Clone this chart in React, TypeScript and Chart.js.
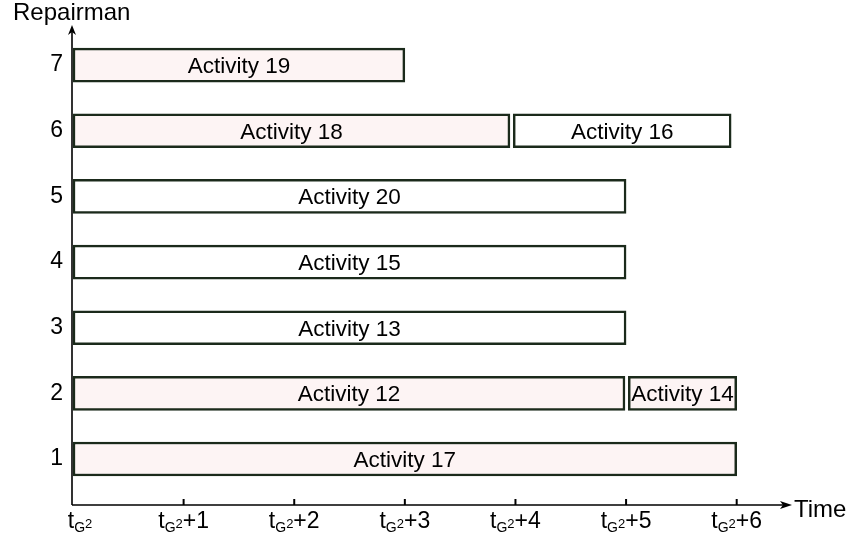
import React, { useEffect, useRef } from "react";
import { Chart, registerables } from "chart.js";

Chart.register(...registerables);

// ---- data ----
const rowLabels = [7, 6, 5, 4, 3, 2, 1];
const xTickSteps = [0, 1, 2, 3, 4, 5, 6];

const primaryRows = [7, 6, 5, 4, 3, 2, 1];
const primaryNames = ["Activity 19", "Activity 18", "Activity 20", "Activity 15", "Activity 13", "Activity 12", "Activity 17"];
const primaryStarts = [0, 0, 0, 0, 0, 0, 0];
const primaryEnds = [3, 3.95, 5, 5, 5, 4.99, 6];

const secondaryRows = [6, 2];
const secondaryNames = ["Activity 16", "Activity 14"];
const secondaryStarts = [3.98, 5.02];
const secondaryEnds = [5.95, 6.0];

// ---- styles ----
const PINK = "#fdf4f4";
const WHITE = "#ffffff";
const EDGE = "#1b2a1b";
const primaryFills = [PINK, PINK, WHITE, WHITE, WHITE, PINK, PINK];
const secondaryFills = [WHITE, PINK];
const FONT = "'Liberation Sans', Arial, sans-serif";

const overlay = {
  id: "overlay",
  afterDatasetsDraw(chart: any) {
    const ctx = chart.ctx as CanvasRenderingContext2D;
    const area = chart.chartArea;
    const xs = chart.scales.x;
    const ax = area.left - 1;
    const ay = area.bottom;
    ctx.save();
    // bar labels
    ctx.fillStyle = "#000";
    ctx.font = `22.5px ${FONT}`;
    ctx.textAlign = "center";
    ctx.textBaseline = "alphabetic";
    const names = [primaryNames, secondaryNames];
    chart.data.datasets.forEach((_: any, di: number) => {
      const meta = chart.getDatasetMeta(di);
      meta.data.forEach((bar: any, i: number) => {
        const p = bar.getProps(["x", "y", "base"], true);
        const cx = (p.x + p.base) / 2;
        ctx.fillText(names[di][i], cx, p.y + 8);
      });
    });

    // axes
    ctx.strokeStyle = "#000";
    ctx.fillStyle = "#000";
    ctx.lineWidth = 1.6;
    ctx.beginPath();
    ctx.moveTo(ax, ay);
    ctx.lineTo(ax, area.top + 6);
    ctx.moveTo(ax, ay);
    ctx.lineTo(area.right - 6, ay);
    ctx.stroke();
    // arrow heads
    ctx.beginPath();
    ctx.moveTo(ax, area.top);
    ctx.lineTo(ax - 4, area.top + 10);
    ctx.lineTo(ax, area.top + 7);
    ctx.lineTo(ax + 4, area.top + 10);
    ctx.closePath();
    ctx.fill();
    ctx.beginPath();
    ctx.moveTo(area.right, ay);
    ctx.lineTo(area.right - 12, ay - 4);
    ctx.lineTo(area.right - 9, ay);
    ctx.lineTo(area.right - 12, ay + 4);
    ctx.closePath();
    ctx.fill();

    // tick marks and labels
    xTickSteps.forEach((k) => {
      const px = xs.getPixelForValue(k);
      if (k > 0) {
        ctx.lineWidth = 2;
        ctx.beginPath();
        ctx.moveTo(px, ay);
        ctx.lineTo(px, ay - 6);
        ctx.stroke();
      }
      const main = "t";
      const sub = "G";
      const sup = "2";
      const tail = k > 0 ? `+${k}` : "";
      ctx.font = `23px ${FONT}`;
      const wMain = ctx.measureText(main).width;
      const wTail = ctx.measureText(tail).width;
      ctx.font = `14px ${FONT}`;
      const wSub = ctx.measureText(sub).width;
      ctx.font = `13px ${FONT}`;
      const wSup = ctx.measureText(sup).width;
      const total = wMain + wSub + wSup + wTail;
      let x0 = px - total / 2 + (k === 0 ? 7 : 0);
      ctx.textAlign = "left";
      ctx.font = `23px ${FONT}`;
      ctx.fillText(main, x0, 528);
      x0 += wMain;
      ctx.font = `14px ${FONT}`;
      ctx.fillText(sub, x0, 532);
      x0 += wSub;
      ctx.font = `13px ${FONT}`;
      ctx.fillText(sup, x0, 528);
      x0 += wSup;
      ctx.font = `23px ${FONT}`;
      ctx.fillText(tail, x0, 528);
    });

    // axis titles
    ctx.font = `24px ${FONT}`;
    ctx.textAlign = "left";
    ctx.fillText("Time", area.right + 2, 517);
    ctx.fillText("Repairman", 13, 20);
    ctx.restore();
  },
};

export default function App() {
  const ref = useRef<HTMLCanvasElement | null>(null);
  useEffect(() => {
    if (!ref.current) return;
    const chart = new Chart(ref.current, {
      type: "bar",
      data: {
        datasets: [
          {
            data: primaryRows.map((r, i) => ({ x: [primaryStarts[i], primaryEnds[i]], y: r })) as any,
            backgroundColor: primaryFills,
            borderColor: EDGE,
            borderWidth: 2.5,
            borderSkipped: false,
            barThickness: 34,
            grouped: false,
          } as any,
          {
            data: secondaryRows.map((r, i) => ({ x: [secondaryStarts[i], secondaryEnds[i]], y: r })) as any,
            backgroundColor: secondaryFills,
            borderColor: EDGE,
            borderWidth: 2.5,
            borderSkipped: false,
            barThickness: 34,
            grouped: false,
          } as any,
        ],
      },
      options: {
        indexAxis: "y",
        responsive: false,
        animation: false,
        layout: { padding: { top: 25, right: 59, left: 0, bottom: 0 } },
        plugins: { legend: { display: false }, tooltip: { enabled: false } },
        scales: {
          x: {
            type: "linear",
            min: 0,
            max: 6.5,
            offset: false,
            grid: { display: false },
            border: { display: false },
            ticks: { display: false },
            afterFit: (s: any) => {
              s.height = 39;
            },
          },
          y: {
            type: "linear",
            min: 0.3,
            max: 7.61,
            offset: false,
            grid: { display: false, drawTicks: false, offset: false },
            border: { display: false },
            ticks: {
              color: "#000",
              font: { family: FONT, size: 23 },
              padding: 10,
            },
            afterBuildTicks: (s: any) => {
              s.ticks = rowLabels.map((v) => ({ value: v }));
            },
            afterFit: (s: any) => {
              s.width = 73;
            },
          },
        } as any,
      } as any,
      plugins: [overlay],
    });
    return () => chart.destroy();
  }, []);
  return (
    <div style={{ position: "absolute", left: 0, top: 0, width: 851, height: 544, background: "#fff" }}>
      <canvas ref={ref} width={851} height={544} style={{ display: "block" }} />
    </div>
  );
}
